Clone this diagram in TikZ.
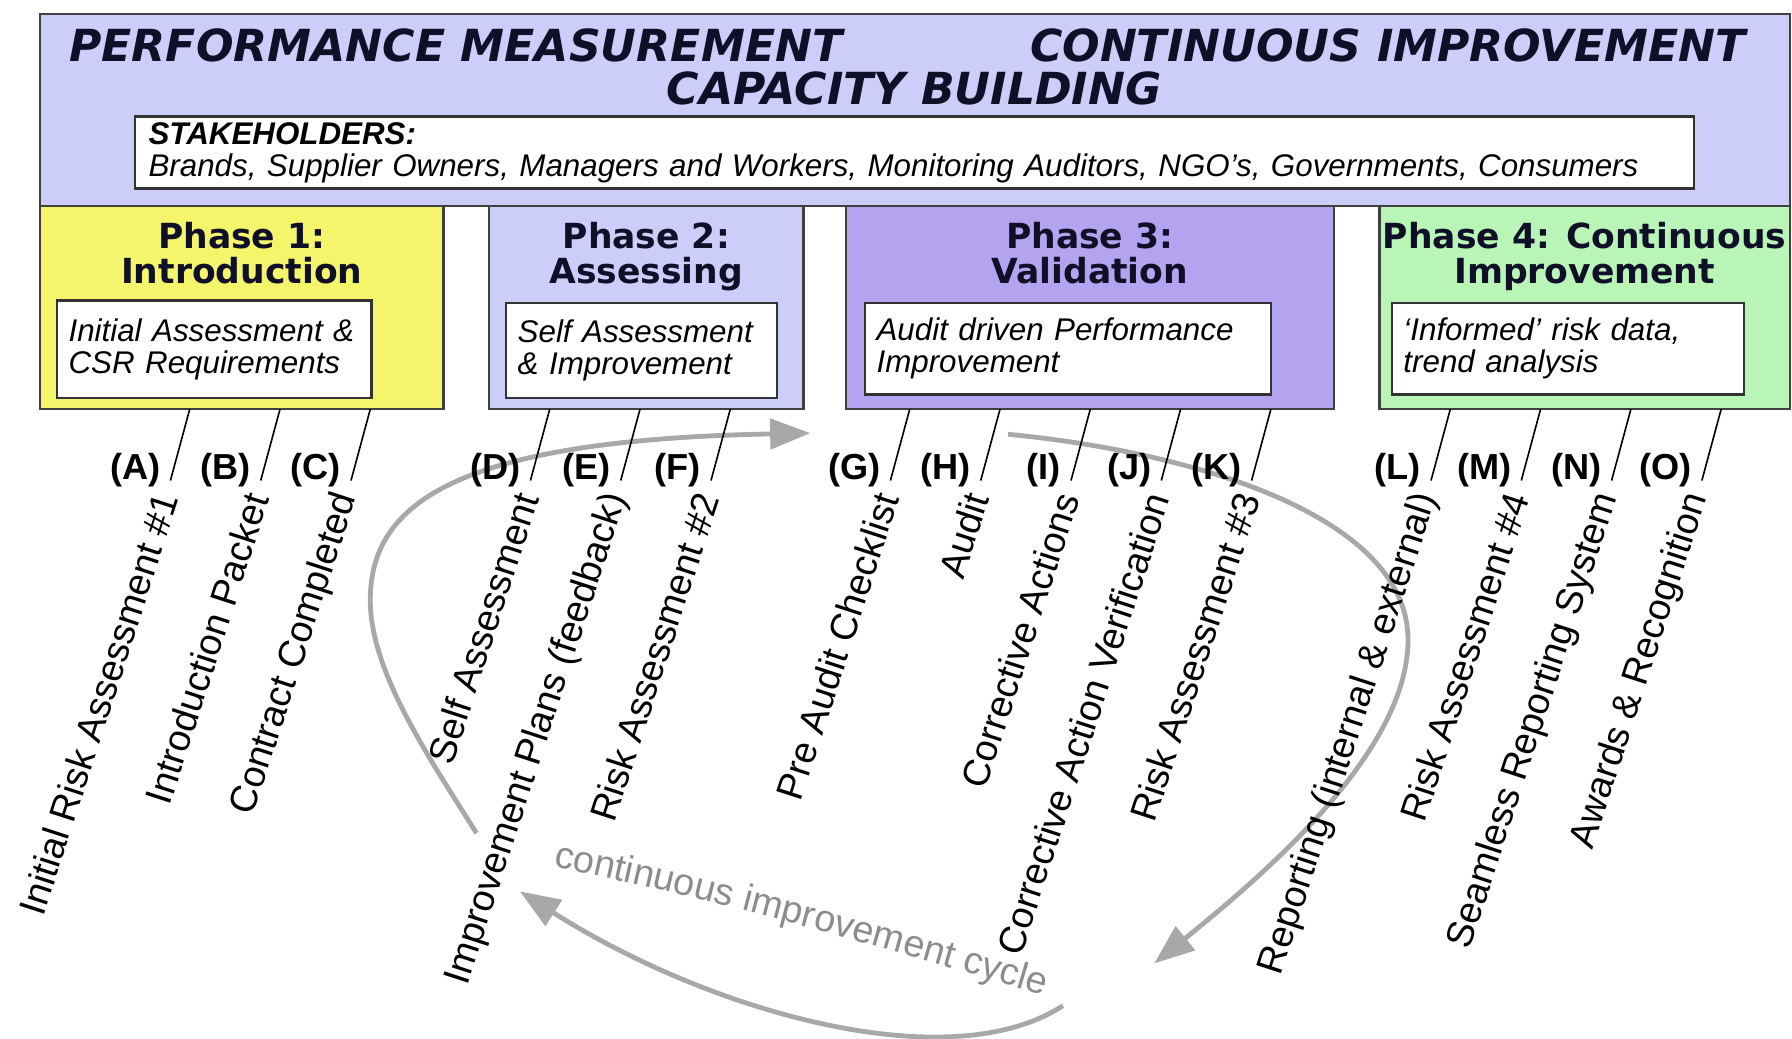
\documentclass[tikz,border=0pt]{standalone}
\usepackage{fontspec}
\setmainfont{Liberation Sans}
\newfontfamily\headfont{DejaVu Sans}
\usepackage{tikz}
\usetikzlibrary{positioning, arrows.meta, decorations.text}
\definecolor{bandblue}{RGB}{205,205,250}
\definecolor{phaseyellow}{RGB}{245,245,108}
\definecolor{phasepurple}{RGB}{180,164,240}
\definecolor{phasegreen}{RGB}{186,245,184}
\definecolor{ink}{RGB}{15,15,40}
\definecolor{cyclegray}{RGB}{168,168,168}
\definecolor{cycleink}{RGB}{140,140,140}
\tikzstyle{band} = [rectangle, draw=black!75, line width=0.6pt, fill=bandblue]
\tikzstyle{phasebox} = [rectangle, draw=black!75, line width=0.6pt, minimum height=1.78cm]
\tikzstyle{headline} = [inner sep=0pt, text=ink, font=\headfont\bfseries\itshape\fontsize{11}{11}\selectfont]
\tikzstyle{phasetitle} = [inner sep=0pt, align=center, text=ink, font=\headfont\bfseries\fontsize{8.6}{8.6}\selectfont]
\tikzstyle{notebox} = [rectangle, draw=black!80, line width=0.6pt, fill=white, align=left, inner xsep=0.1cm, inner ysep=0pt, font=\itshape\fontsize{7.8}{8}\selectfont]
\tikzstyle{itemtext} = [rotate=72, anchor=east, inner sep=0pt, font=\fontsize{9.4}{9.4}\selectfont]
\tikzstyle{tag} = [anchor=east, inner sep=0pt, font=\bfseries\fontsize{9}{9}\selectfont]
\tikzstyle{tick} = [line width=0.4pt, shorten >=3.4pt]
\tikzstyle{arrow} = [line width=1.2pt, draw=cyclegray, -{Triangle[length=10pt,width=7.5pt]}]
\tikzstyle{cycletext} = [decorate, decoration={text along path, text color=cycleink, text={|\fontsize{9.4}{9.4}\selectfont|continuous improvement cycle}}]

\begin{document}
\begin{tikzpicture}
            \useasboundingbox (0,0) rectangle (15.68,-9.09);

            \node (top) [band, minimum width=15.31cm, minimum height=1.68cm] at (8.005,-0.96) {};
            \node (perf) [headline, anchor=west] at (0.60,-0.40) {PERFORMANCE MEASUREMENT};
            \node (cont) [headline, anchor=east] at (15.28,-0.40) {CONTINUOUS IMPROVEMENT};
            \node (cap) [headline] at (8.00,-0.77) {CAPACITY BUILDING};
            \node (stake) [notebox, inner xsep=0.12cm, text width=13.40cm, minimum height=0.63cm] at (8.00,-1.335) {\textbf{STAKEHOLDERS:}\\Brands, Supplier Owners, Managers and Workers, Monitoring Auditors, NGO's, Governments, Consumers};

            \node (ph1) [phasebox, fill=phaseyellow, minimum width=3.53cm] at (2.115,-2.69) {};
            \node (ph2) [phasebox, fill=bandblue, minimum width=2.75cm] at (5.655,-2.69) {};
            \node (ph3) [phasebox, fill=phasepurple, minimum width=4.27cm] at (9.535,-2.69) {};
            \node (ph4) [phasebox, fill=phasegreen, minimum width=3.59cm] at (13.865,-2.69) {};

            \node (t1) [phasetitle, below=0.15cm of ph1.north] {Phase 1:\\Introduction};
            \node (t2) [phasetitle, below=0.15cm of ph2.north] {Phase 2:\\Assessing};
            \node (t3) [phasetitle, below=0.15cm of ph3.north] {Phase 3:\\Validation};
            \node (t4) [phasetitle, below=0.15cm of ph4.north] {Phase 4: Continuous\\Improvement};

            \node (n1) [notebox, text width=2.55cm, minimum height=0.85cm] at (1.875,-3.055) {Initial Assessment \&\\CSR Requirements};
            \node (n2) [notebox, text width=2.17cm, minimum height=0.83cm] at (5.615,-3.065) {Self Assessment\\\& Improvement};
            \node (n3) [notebox, text width=3.35cm, minimum height=0.80cm] at (9.345,-3.05) {Audit driven Performance\\Improvement};
            \node (n4) [notebox, text width=2.88cm, minimum height=0.80cm] at (13.72,-3.05) {`Informed' risk data,\\trend analysis};

            \coordinate (c1s) at (4.17,-7.29);
            \coordinate (c1e) at (7.09,-3.79);
            \coordinate (c2s) at (8.82,-3.80);
            \coordinate (c2e) at (10.10,-8.43);
            \coordinate (c3s) at (9.30,-8.80);
            \coordinate (c3e) at (4.55,-7.80);
            \draw [arrow] (c1s) .. controls (3.70,-6.55) and (3.24,-5.85) .. (3.24,-5.25) .. controls (3.24,-4.40) and (4.00,-3.85) .. (c1e);
            \draw [arrow] (c2s) .. controls (10.40,-3.95) and (12.32,-4.50) .. (12.32,-5.60) .. controls (12.32,-6.60) and (11.00,-7.70) .. (c2e);
            \draw [arrow] (c3s) .. controls (8.30,-9.45) and (6.20,-8.85) .. (c3e);
            \coordinate (cyca) at (4.84,-7.58);
            \coordinate (cycb) at (9.10,-8.70);
            \path [cycletext] (cyca) .. controls (6.30,-7.88) and (7.70,-8.28) .. (cycb);

            \coordinate (ta) at (1.66,-3.58);
            \node (ia) [itemtext] at (1.46,-4.32) {Initial Risk Assessment \#1};
            \node (la) [tag] at (1.41,-4.11) {(A)};
            \draw [tick] (ta) -- (ia.east);

            \coordinate (tb) at (2.45,-3.58);
            \node (ib) [itemtext] at (2.25,-4.32) {Introduction Packet};
            \node (lb) [tag] at (2.20,-4.11) {(B)};
            \draw [tick] (tb) -- (ib.east);

            \coordinate (tc) at (3.24,-3.58);
            \node (ic) [itemtext] at (3.04,-4.32) {Contract Completed};
            \node (lc) [tag] at (2.99,-4.11) {(C)};
            \draw [tick] (tc) -- (ic.east);

            \coordinate (td) at (4.81,-3.58);
            \node (id) [itemtext] at (4.61,-4.32) {Self Assessment};
            \node (ld) [tag] at (4.56,-4.11) {(D)};
            \draw [tick] (td) -- (id.east);

            \coordinate (te) at (5.60,-3.58);
            \node (ie) [itemtext] at (5.40,-4.32) {Improvement Plans (feedback)};
            \node (le) [tag] at (5.35,-4.11) {(E)};
            \draw [tick] (te) -- (ie.east);

            \coordinate (tf) at (6.39,-3.58);
            \node (if) [itemtext] at (6.19,-4.32) {Risk Assessment \#2};
            \node (lf) [tag] at (6.14,-4.11) {(F)};
            \draw [tick] (tf) -- (if.east);

            \coordinate (tg) at (7.96,-3.58);
            \node (ig) [itemtext] at (7.76,-4.32) {Pre Audit Checklist};
            \node (lg) [tag] at (7.71,-4.11) {(G)};
            \draw [tick] (tg) -- (ig.east);

            \coordinate (th) at (8.75,-3.58);
            \node (ih) [itemtext] at (8.55,-4.32) {Audit};
            \node (lh) [tag] at (8.50,-4.11) {(H)};
            \draw [tick] (th) -- (ih.east);

            \coordinate (ti) at (9.54,-3.58);
            \node (ii) [itemtext] at (9.34,-4.32) {Corrective Actions};
            \node (li) [tag] at (9.29,-4.11) {(I)};
            \draw [tick] (ti) -- (ii.east);

            \coordinate (tj) at (10.33,-3.58);
            \node (ij) [itemtext] at (10.13,-4.32) {Corrective Action Verification};
            \node (lj) [tag] at (10.08,-4.11) {(J)};
            \draw [tick] (tj) -- (ij.east);

            \coordinate (tk) at (11.12,-3.58);
            \node (ik) [itemtext] at (10.92,-4.32) {Risk Assessment \#3};
            \node (lk) [tag] at (10.87,-4.11) {(K)};
            \draw [tick] (tk) -- (ik.east);

            \coordinate (tl) at (12.69,-3.58);
            \node (il) [itemtext] at (12.49,-4.32) {Reporting (internal \& external)};
            \node (ll) [tag] at (12.44,-4.11) {(L)};
            \draw [tick] (tl) -- (il.east);

            \coordinate (tm) at (13.48,-3.58);
            \node (im) [itemtext] at (13.28,-4.32) {Risk Assessment \#4};
            \node (lm) [tag] at (13.23,-4.11) {(M)};
            \draw [tick] (tm) -- (im.east);

            \coordinate (tn) at (14.27,-3.58);
            \node (in) [itemtext] at (14.07,-4.32) {Seamless Reporting System};
            \node (ln) [tag] at (14.02,-4.11) {(N)};
            \draw [tick] (tn) -- (in.east);

            \coordinate (to) at (15.06,-3.58);
            \node (io) [itemtext] at (14.86,-4.32) {Awards \& Recognition};
            \node (lo) [tag] at (14.81,-4.11) {(O)};
            \draw [tick] (to) -- (io.east);
        \end{tikzpicture}
\end{document}
